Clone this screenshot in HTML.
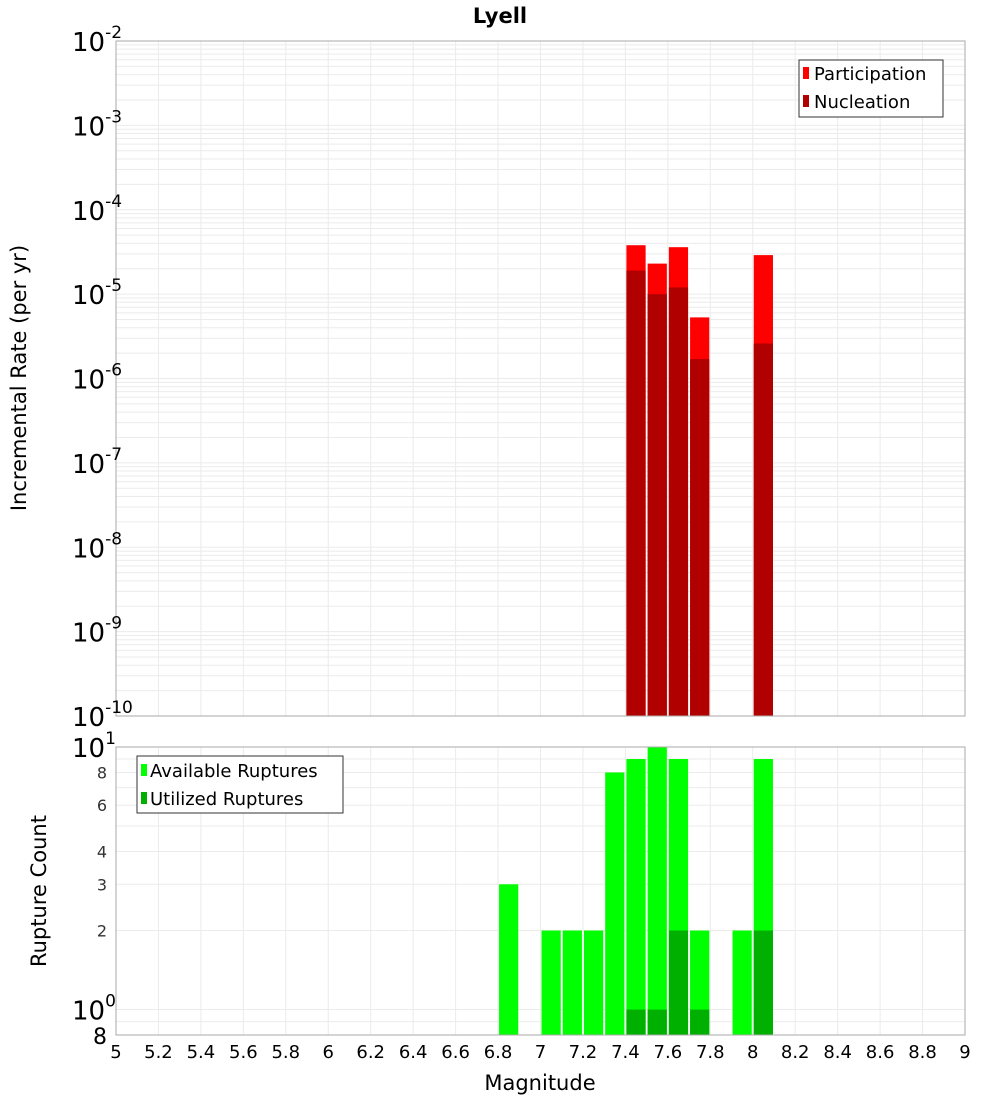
<!DOCTYPE html>
<html><head><meta charset="utf-8"><style>
body{margin:0;background:#fff;font-family:"DejaVu Sans","Liberation Sans",sans-serif;}
svg text{font-family:"DejaVu Sans","Liberation Sans",sans-serif;}
</style></head><body>
<svg id="chart" width="1000" height="1100" xmlns="http://www.w3.org/2000/svg">
<rect width="1000" height="1100" fill="#fff"/>
<text x="500" y="23" text-anchor="middle" font-size="21" font-weight="bold">Lyell</text>
<g id="topplot"></g>
<g id="botplot"></g>
<text transform="translate(26,378) rotate(-90)" text-anchor="middle" font-size="21">Incremental Rate (per yr)</text>
<text transform="translate(46,891) rotate(-90)" text-anchor="middle" font-size="21">Rupture Count</text>
<text x="540" y="1090" text-anchor="middle" font-size="21">Magnitude</text>
<g>
<rect x="799" y="60" width="144" height="57" fill="#fff" stroke="#333"/>
<rect x="803" y="67" width="6" height="12" fill="#ff0000"/>
<text x="814" y="80" font-size="18">Participation</text>
<rect x="803" y="95" width="6" height="12" fill="#b00000"/>
<text x="814" y="108" font-size="18">Nucleation</text>
</g>
<g>
<rect x="137" y="756" width="206" height="57" fill="#fff" stroke="#333"/>
<rect x="141" y="764" width="6" height="12" fill="#00ff00"/>
<text x="150" y="777" font-size="18">Available Ruptures</text>
<rect x="141" y="792" width="6" height="12" fill="#00b000"/>
<text x="150" y="805" font-size="18">Utilized Ruptures</text>
</g>
</svg>
<script>
const rateMags=[7.4,7.5,7.6,7.7,8.0];
const participation=[3.8e-5,2.3e-5,3.6e-5,5.3e-6,2.9e-5];
const nucleation=[1.9e-5,1.0e-5,1.2e-5,1.7e-6,2.6e-6];
const countMags=[6.8,7.0,7.1,7.2,7.3,7.4,7.5,7.6,7.7,7.9,8.0];
const available=[3,2,2,2,8,9,10,9,2,2,9];
const utilMags=[7.4,7.5,7.6,7.7,8.0];
const utilized=[1,1,2,1,2];
const xTicks=[5,5.2,5.4,5.6,5.8,6,6.2,6.4,6.6,6.8,7,7.2,7.4,7.6,7.8,8,8.2,8.4,8.6,8.8,9];
const topExps=[-10,-9,-8,-7,-6,-5,-4,-3,-2];
const botTickVals=[2,3,4,6,8];

const NS="http://www.w3.org/2000/svg";
const X0=116,X1=965;
const x=m=>X0+(m-5)/4*(X1-X0);
const T0=41,T1=716;
const yT=v=>T1-(Math.log10(v)+10)/8*(T1-T0);
const B0=747,B1=1035;
const bLo=Math.log10(0.8),bHi=1;
const yB=v=>B1-(Math.log10(v)-bLo)/(bHi-bLo)*(B1-B0);
function mk(p,t,a){const e=document.createElementNS(NS,t);for(const k in a)e.setAttribute(k,a[k]);p.appendChild(e);return e;}
const topG=document.getElementById('topplot'),botG=document.getElementById('botplot');
for(let e=-10;e<-2;e++)for(let k=1;k<10;k++){const y=yT(k*Math.pow(10,e));
 const l=mk(topG,'line',{x1:X0,x2:X1,y1:y,y2:y,stroke:'#ebebeb','stroke-width':1});
 
 }
for(const v of [0.9,1,2,3,4,5,6,7,8,9,10]){const y=yB(v);
 const l=mk(botG,'line',{x1:X0,x2:X1,y1:y,y2:y,stroke:'#ebebeb','stroke-width':1});
 
 }
xTicks.forEach(m=>{for(const [g,a,b] of [[topG,T0,T1],[botG,B0,B1]]){
 const l=mk(g,'line',{x1:x(m),x2:x(m),y1:a,y2:b,stroke:'#ebebeb','stroke-width':1});
 
 }
 const t=mk(botG,'text',{x:x(m),y:1058,'text-anchor':'middle','font-size':18});t.textContent=String(m);
 
 });
function bar(g,m,v,yf,base,fill,name){const xa=x(m)+1,xb=x(m+0.1)-1;const y=yf(v);
 const r=mk(g,'rect',{x:xa,y:y,width:xb-xa,height:base-y,fill:fill});
 
 }
rateMags.forEach((m,i)=>bar(topG,m,participation[i],yT,T1,'#ff0000','participation-bar'));
rateMags.forEach((m,i)=>bar(topG,m,nucleation[i],yT,T1,'#b00000','nucleation-bar'));
countMags.forEach((m,i)=>bar(botG,m,available[i],yB,B1,'#00ff00','available-bar'));
utilMags.forEach((m,i)=>bar(botG,m,utilized[i],yB,B1,'#00b000','utilized-bar'));
const f1=mk(topG,'rect',{x:X0,y:T0,width:X1-X0,height:T1-T0,fill:'none',stroke:'#aaa'});


const f2=mk(botG,'rect',{x:X0,y:B0,width:X1-X0,height:B1-B0,fill:'none',stroke:'#aaa'});


topExps.forEach(e=>{const y=yT(Math.pow(10,e));
 const t=mk(topG,'text',{x:72,y:y+10,'font-size':26});
 
 
 t.textContent='10';const s=mk(t,'tspan',{dy:-13,'font-size':17});s.textContent=String(e);});
[[10,'1'],[1,'0']].forEach(([v,e])=>{const y=yB(v);
 const t=mk(botG,'text',{x:72,y:y+10,'font-size':26});
 
 
 t.textContent='10';const s=mk(t,'tspan',{dy:-13,'font-size':17});s.textContent=e;});
botTickVals.forEach(v=>{const t=mk(botG,'text',{x:107,y:yB(v)+6,'text-anchor':'end','font-size':16,fill:'#333'});t.textContent=String(v);
 
 });
const t8=mk(botG,'text',{x:107,y:B1+9,'text-anchor':'end','font-size':22});t8.textContent='8';


</script>
</body></html>
